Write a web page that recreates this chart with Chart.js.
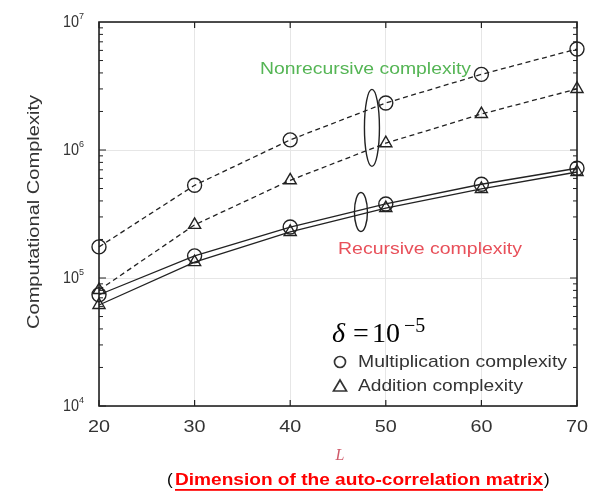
<!DOCTYPE html>
<html>
<head>
<meta charset="utf-8">
<script src="https://cdn.jsdelivr.net/npm/chart.js@4.4.1/dist/chart.umd.min.js"></script>
<style>
  html, body { margin: 0; padding: 0; background: #fff; }
  #wrap { position: relative; width: 592px; height: 493px; }
</style>
</head>
<body>
<div id="wrap"><canvas id="chart" width="592" height="493"></canvas></div>
<script>
// L values (dimension of the auto-correlation matrix)
const dims = [20, 30, 40, 50, 60, 70];

// computational complexity
const nonrecMult = [175000, 530000, 1200000, 2330000, 3900000, 6150000];
const nonrecAdd  = [80500, 260000, 580000, 1130000, 1910000, 3000000];
const recMult    = [74000, 149000, 250000, 379000, 540000, 720000];
const recAdd     = [61500, 133000, 229000, 352000, 496000, 673000];

const xTicks = [20, 30, 40, 50, 60, 70];
const yExponents = [4, 5, 6, 7];

const INK = '#222';
const GRID = '#e6e6e6';
const SANS = '"Liberation Sans", Arial, sans-serif';
const SERIF = '"Liberation Serif", "DejaVu Serif", serif';

function series(label, ys, style, dashed) {
  return {
    label,
    data: dims.map((x, i) => ({ x, y: ys[i] })),
    borderColor: INK,
    borderWidth: 1.3,
    borderDash: dashed ? [5, 3.5] : [],
    pointStyle: style,
    pointRadius: 7,
    pointBorderWidth: 1.4,
    pointBorderColor: INK,
    pointBackgroundColor: 'rgba(0,0,0,0)',
    tension: 0,
    fill: false,
    clip: false
  };
}

// text squeezed/stretched horizontally to a given width (left-aligned at x)
function wideText(ctx, text, x, y, width) {
  const w = ctx.measureText(text).width;
  ctx.save();
  ctx.translate(x, y);
  ctx.scale(width / w, 1);
  ctx.textAlign = 'left';
  ctx.fillText(text, 0, 0);
  ctx.restore();
}

// frame, inward ticks, labels and annotations
const decor = {
  id: 'decor',
  afterDraw(chart) {
    const { ctx, chartArea: a, scales: { x, y } } = chart;
    ctx.save();

    // frame
    ctx.strokeStyle = INK;
    ctx.lineWidth = 1.6;
    ctx.strokeRect(a.left, a.top, a.right - a.left, a.bottom - a.top);

    // x ticks (inward, top and bottom)
    ctx.lineWidth = 1.2;
    xTicks.forEach(v => {
      const px = x.getPixelForValue(v);
      ctx.beginPath();
      ctx.moveTo(px, a.bottom); ctx.lineTo(px, a.bottom - 6);
      ctx.moveTo(px, a.top); ctx.lineTo(px, a.top + 6);
      ctx.stroke();
    });

    // y ticks (major + minor, inward, left and right)
    ctx.lineWidth = 1;
    for (let e = yExponents[0]; e < yExponents[yExponents.length - 1]; e++) {
      for (let m = 1; m <= 9; m++) {
        const py = y.getPixelForValue(m * Math.pow(10, e));
        const len = m === 1 ? 7 : 4;
        ctx.beginPath();
        ctx.moveTo(a.left, py); ctx.lineTo(a.left + len, py);
        ctx.moveTo(a.right, py); ctx.lineTo(a.right - len, py);
        ctx.stroke();
      }
    }

    // x tick labels
    ctx.fillStyle = '#333';
    ctx.font = '17px ' + SANS;
    ctx.textBaseline = 'middle';
    xTicks.forEach(v => wideText(ctx, String(v), x.getPixelForValue(v) - 11, a.bottom + 21, 22));

    // y tick labels 10^n
    yExponents.forEach(e => {
      const py = y.getPixelForValue(Math.pow(10, e));
      ctx.font = '16px ' + SANS;
      ctx.textBaseline = 'middle';
      wideText(ctx, '10', a.left - 36, py + 1, 16);
      ctx.font = '9px ' + SANS;
      ctx.fillText(String(e), a.left - 20, py - 5);
    });

    // y title
    ctx.save();
    ctx.translate(34, 212);
    ctx.rotate(-Math.PI / 2);
    ctx.font = '17px ' + SANS;
    ctx.textBaseline = 'middle';
    ctx.fillStyle = '#333';
    wideText(ctx, 'Computational Complexity', -117, 0, 234);
    ctx.restore();

    // series annotations
    ctx.font = '17px ' + SANS;
    ctx.textBaseline = 'middle';
    ctx.fillStyle = '#55b555';
    wideText(ctx, 'Nonrecursive complexity', 260, 69, 211);
    ctx.fillStyle = '#e8505a';
    wideText(ctx, 'Recursive complexity', 338, 249, 184);

    // grouping ellipses
    ctx.strokeStyle = INK;
    ctx.lineWidth = 1.4;
    ctx.beginPath();
    ctx.ellipse(x.getPixelForValue(48.55), y.getPixelForValue(1490000), 7.5, 38.5, 0, 0, 2 * Math.PI);
    ctx.stroke();
    ctx.beginPath();
    ctx.ellipse(x.getPixelForValue(47.4), y.getPixelForValue(328000), 6.5, 19.5, 0, 0, 2 * Math.PI);
    ctx.stroke();

    // delta = 10^-5
    ctx.fillStyle = '#000';
    ctx.textBaseline = 'alphabetic';
    ctx.textAlign = 'left';
    ctx.font = 'italic 28px ' + SERIF;
    ctx.fillText('\u03b4', 332, 342);
    ctx.font = '28px ' + SERIF;
    ctx.fillText('=', 353, 342);
    ctx.fillText('10', 372, 342);
    ctx.font = '20px ' + SERIF;
    ctx.fillText('\u22125', 404, 332);

    // legend
    ctx.fillStyle = '#333';
    ctx.strokeStyle = '#333';
    ctx.lineWidth = 1.7;
    ctx.font = '17px ' + SANS;
    ctx.textBaseline = 'middle';
    ctx.beginPath();
    ctx.arc(340, 362, 5.5, 0, 2 * Math.PI);
    ctx.stroke();
    wideText(ctx, 'Multiplication complexity', 358, 362, 209);
    ctx.beginPath();
    ctx.moveTo(340, 380); ctx.lineTo(346.5, 391); ctx.lineTo(333.5, 391); ctx.closePath();
    ctx.stroke();
    wideText(ctx, 'Addition complexity', 358, 386, 165);

    // x title L
    ctx.fillStyle = '#d05a6a';
    ctx.font = 'italic 16px ' + SERIF;
    ctx.textAlign = 'center';
    ctx.fillText('L', 340, 456);

    // caption
    const cap = 'Dimension of the auto-correlation matrix';
    ctx.textAlign = 'left';
    ctx.fillStyle = '#000';
    ctx.font = '17px ' + SANS;
    ctx.fillText('(', 167, 480);
    ctx.font = 'bold 17px ' + SANS;
    ctx.fillStyle = '#ff0000';
    wideText(ctx, cap, 175, 480, 368);
    ctx.fillRect(175, 489, 368, 1.8);
    ctx.font = '17px ' + SANS;
    ctx.fillStyle = '#000';
    ctx.fillText(')', 544, 480);

    ctx.restore();
  }
};

new Chart(document.getElementById('chart'), {
  type: 'line',
  data: {
    datasets: [
      series('Nonrecursive multiplication', nonrecMult, 'circle', true),
      series('Nonrecursive addition', nonrecAdd, 'triangle', true),
      series('Recursive multiplication', recMult, 'circle', false),
      series('Recursive addition', recAdd, 'triangle', false)
    ]
  },
  options: {
    responsive: false,
    animation: false,
    layout: { padding: { left: 99, right: 15, top: 22, bottom: 87 } },
    plugins: { legend: { display: false }, tooltip: { enabled: false } },
    scales: {
      x: {
        type: 'linear', min: 20, max: 70,
        afterBuildTicks: s => { s.ticks = xTicks.map(v => ({ value: v })); },
        ticks: { display: false },
        grid: { color: GRID, drawTicks: false },
        border: { display: false },
        afterFit: s => { s.height = 0; }
      },
      y: {
        type: 'logarithmic', min: 1e4, max: 1e7,
        afterBuildTicks: s => { s.ticks = yExponents.map(e => ({ value: Math.pow(10, e) })); },
        ticks: { display: false },
        grid: { color: GRID, drawTicks: false },
        border: { display: false },
        afterFit: s => { s.width = 0; }
      }
    }
  },
  plugins: [decor]
});
</script>
</body>
</html>
